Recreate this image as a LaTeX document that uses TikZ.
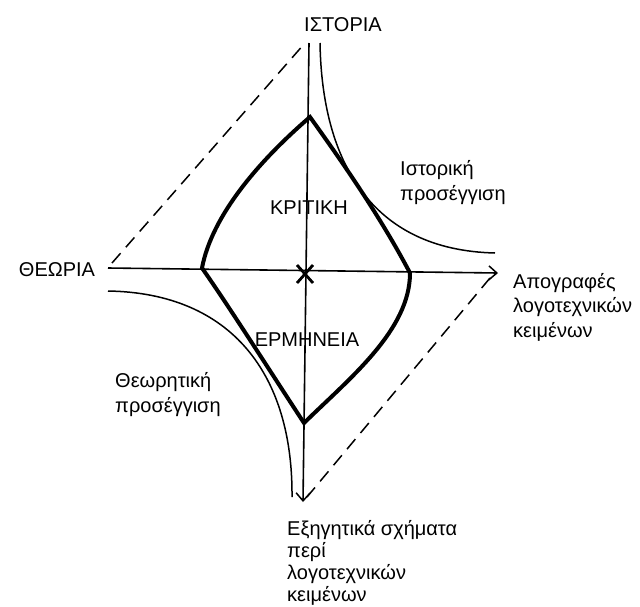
\documentclass[tikz,border=0pt]{standalone}
\usepackage{fontspec}
\setmainfont{Liberation Sans}
\usetikzlibrary{arrows.meta,calc}
\begin{document}
\begin{tikzpicture}[x=1pt,y=-1pt,
  lbl/.style={inner sep=0pt,font=\fontsize{20}{24.5}\selectfont,align=left},
  axis/.style={line width=1.6pt,-{Straight Barb[length=8pt,width=14pt,line width=1.5pt]}},
  guide/.style={line width=1.5pt,dash pattern=on 13pt off 8pt},
  hyper/.style={line width=1.5pt},
  bold/.style={line width=4pt,line join=miter},
  crossline/.style={line width=2.8pt}]
\useasboundingbox (0,0) rectangle (640,606);
% points
\coordinate (vtop) at (309,43);
\coordinate (vbot) at (303,502);
\coordinate (hleft) at (108,268);
\coordinate (hright) at (498,273);
\coordinate (T) at (310,117);
\coordinate (L) at (202,268);
\coordinate (R) at (410,273);
\coordinate (B) at (304,423);
\coordinate (dl1) at (112,263);
\coordinate (dl2) at (305,43);
\coordinate (dr1) at (490,278);
\coordinate (dr2) at (307,497);
\coordinate (h1a) at (320,43);
\coordinate (h1b) at (495,253);
\coordinate (h2a) at (108,291);
\coordinate (h2b) at (292,497);
\coordinate (X) at (305,274);
% axes
\draw[axis] (hleft) -- (hright);
\draw[axis] (vtop) -- (vbot);
% dashed guides
\draw[guide] (dl1) -- (dl2);
\draw[guide] (dr1) -- (dr2);
% hyperbolas
\draw[hyper] (h1a) .. controls (322,160) and (370,250) .. (h1b);
\draw[hyper] (h2a) .. controls (232,293) and (293,375) .. (h2b);
% bold curved diamond
\draw[bold] (T) .. controls (335,152) and (378,212) .. (R)
  .. controls (410,330) and (350,378) .. (B)
  .. controls (268,368) and (228,305) .. (L)
  .. controls (212,215) and (260,160) .. cycle;
% cross
\draw[crossline] ($(X)+(-8,-9)$) -- ($(X)+(8,9)$);
\draw[crossline] ($(X)+(8,-9)$) -- ($(X)+(-8,9)$);
% labels
\node[lbl] (istoria) at (343,25) {ΙΣΤΟΡΙΑ};
\node[lbl] (theoria) at (57,270) {ΘΕΩΡΙΑ};
\node[lbl] (kritiki) at (309,208) {ΚΡΙΤΙΚΗ};
\node[lbl] (ermineia) at (307,340) {ΕΡΜΗΝΕΙΑ};
\node[lbl,anchor=base west,font=\fontsize{20}{25}\selectfont] (istapp) at (400,200) {Ιστορική\\προσέγγιση};
\node[lbl,anchor=base west,font=\fontsize{20}{25}\selectfont] (theoapp) at (115,412) {Θεωρητική\\προσέγγιση};
\node[lbl,anchor=base west] (apogr) at (513,337) {Απογραφές\\λογοτεχνικών\\κειμένων};
\node[lbl,anchor=base west,font=\fontsize{20}{22}\selectfont] (exig) at (287,601) {Εξηγητικά σχήματα\\περί\\λογοτεχνικών\\κειμένων};
\end{tikzpicture}
\end{document}
